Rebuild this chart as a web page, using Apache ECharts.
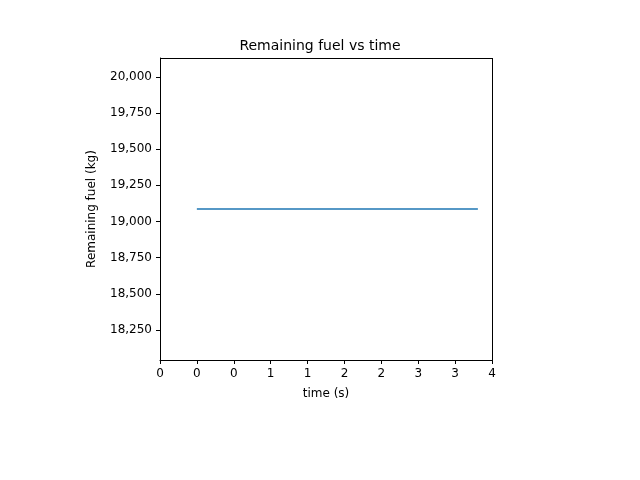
<!DOCTYPE html>
<html>
<head>
<meta charset="utf-8">
<script src="https://cdn.jsdelivr.net/npm/echarts@6/dist/echarts.min.js"></script>
<style>html,body{margin:0;padding:0;background:#fff}#chart{width:640px;height:480px}</style>
</head>
<body>
<div id="chart"></div>
<script>
var timeValues = [0.444, 1.0, 2.0, 3.0, 3.83];
var fuelValues = [19086, 19086, 19086, 19086, 19086];
var xTicks = [0, 4/9, 8/9, 12/9, 16/9, 20/9, 24/9, 28/9, 32/9, 4];
var yTicks = [18250, 18500, 18750, 19000, 19250, 19500, 19750, 20000];

var chart = echarts.init(document.getElementById('chart'));
var axisFont = {color: '#000', fontSize: 12, fontFamily: 'DejaVu Sans'};
var option = {
    animation: false,
    title: {
        text: 'Remaining fuel vs time',
        left: 'center',
        top: 34,
        textStyle: {fontSize: 14, fontWeight: 'normal', color: '#000', fontFamily: 'DejaVu Sans'}
    },
    grid: {left: 160, right: 148, top: 58, bottom: 120},
    xAxis: {
        type: 'value',
        min: 0, max: 4,
        name: 'time (s)', nameLocation: 'middle', nameGap: 28,
        nameTextStyle: axisFont,
        axisLine: {lineStyle: {color: '#000'}},
        axisTick: {show: true, length: 4, customValues: xTicks, lineStyle: {color: '#000'}},
        axisLabel: Object.assign({customValues: xTicks, formatter: function (v) { return String(Math.floor(v + 1e-9)); }}, axisFont),
        splitLine: {show: false}
    },
    yAxis: {
        type: 'value',
        min: 18042, max: 20131,
        name: 'Remaining fuel (kg)', nameLocation: 'middle', nameGap: 62,
        nameTextStyle: axisFont,
        axisLine: {show: true, lineStyle: {color: '#000'}},
        axisTick: {show: true, length: 4, customValues: yTicks, lineStyle: {color: '#000'}},
        axisLabel: Object.assign({customValues: yTicks}, axisFont),
        splitLine: {show: false}
    },
    series: [{
        type: 'line',
        data: timeValues.map(function (t, i) { return [t, fuelValues[i]]; }),
        showSymbol: false,
        lineStyle: {color: '#1f77b4', width: 1.5}
    }, {
        type: 'line', data: [], xAxisIndex: 0, yAxisIndex: 0,
        markLine: {silent: true, symbol: 'none', label: {show: false},
            lineStyle: {color: '#000', type: 'solid', width: 1},
            data: [{xAxis: 4}, {yAxis: 20131}]}
    }]
};
chart.setOption(option);
</script>
</body>
</html>
